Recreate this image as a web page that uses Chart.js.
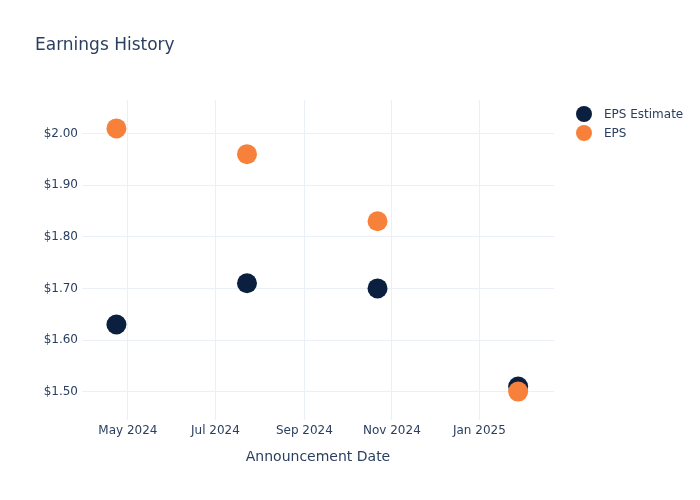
<!DOCTYPE html>
<html>
<head>
<meta charset="utf-8">
<script src="https://cdn.jsdelivr.net/npm/chart.js@4"></script>
<style>
  html, body { margin: 0; padding: 0; background: #fff; }
  #wrap { width: 700px; height: 500px; }
</style>
</head>
<body>
<div id="wrap"><canvas id="epsChart" width="700" height="500"></canvas></div>
<script>
const dates = ["2024-04-23", "2024-07-23", "2024-10-22", "2025-01-28"];
const epsEstimate = [1.63, 1.71, 1.70, 1.51];
const epsActual = [2.01, 1.96, 1.83, 1.50];
const xTickDates = ["2024-05-01", "2024-07-01", "2024-09-01", "2024-11-01", "2025-01-01"];
const xTickLabels = ["May 2024", "Jul 2024", "Sep 2024", "Nov 2024", "Jan 2025"];
const yTicks = [1.5, 1.6, 1.7, 1.8, 1.9, 2.0];

const textColor = '#2a3f5f';
const gridColor = '#ebf0f8';
const navy = '#0b1f3f';
const orange = '#f7813a';

const toPoints = (vals) => dates.map((d, i) => ({ x: Date.parse(d), y: vals[i] }));
const xTickValues = xTickDates.map(d => Date.parse(d));

// title + legend drawn by hand so the plot area lines up with the reference
const decorations = {
    id: 'decorations',
    afterDraw(chart) {
        const c = chart.ctx;
        c.save();
        c.fillStyle = textColor;
        c.font = '17px "DejaVu Sans"';
        c.textBaseline = 'alphabetic';
        c.textAlign = 'left';
        c.fillText('Earnings History', 35, 50);

        const items = [
            { label: 'EPS Estimate', color: navy },
            { label: 'EPS', color: orange }
        ];
        c.font = '12px "DejaVu Sans"';
        c.textBaseline = 'middle';
        items.forEach((it, i) => {
            const y = 114 + i * 19;
            c.beginPath();
            c.arc(584, y, 8, 0, Math.PI * 2);
            c.fillStyle = it.color;
            c.fill();
            c.fillStyle = textColor;
            c.fillText(it.label, 604, y + 1);
        });
        c.restore();
    }
};

new Chart(document.getElementById('epsChart'), {
    type: 'scatter',
    data: {
        datasets: [
            {
                label: 'EPS Estimate',
                data: toPoints(epsEstimate),
                backgroundColor: navy,
                borderWidth: 0,
                pointRadius: 10,
                pointHoverRadius: 10,
                order: 1
            },
            {
                label: 'EPS',
                data: toPoints(epsActual),
                backgroundColor: orange,
                borderWidth: 0,
                pointRadius: 10,
                pointHoverRadius: 10,
                order: 0
            }
        ]
    },
    options: {
        responsive: false,
        animation: false,
        events: [],
        layout: { padding: { left: 0, right: 146, top: 100, bottom: 0 } },
        plugins: {
            legend: { display: false },
            title: { display: false },
            tooltip: { enabled: false }
        },
        scales: {
            x: {
                type: 'linear',
                min: Date.parse('2024-03-30'),
                max: Date.parse('2025-02-22'),
                afterBuildTicks: (scale) => { scale.ticks = xTickValues.map(v => ({ value: v })); },
                afterFit: (scale) => { scale.height = 80; },
                grid: { color: gridColor, drawTicks: false },
                border: { display: false },
                ticks: {
                    color: textColor,
                    font: { family: 'DejaVu Sans', size: 12 },
                    padding: 4,
                    maxRotation: 0,
                    callback: (v) => {
                        const i = xTickValues.indexOf(v);
                        return i >= 0 ? xTickLabels[i] : '';
                    }
                },
                title: {
                    display: true,
                    text: 'Announcement Date',
                    color: textColor,
                    font: { family: 'DejaVu Sans', size: 14 },
                    padding: { top: 0, bottom: 34 }
                }
            },
            y: {
                min: 1.445,
                max: 2.065,
                afterBuildTicks: (scale) => { scale.ticks = yTicks.map(v => ({ value: v })); },
                afterFit: (scale) => { scale.width = 82; },
                grid: { color: gridColor, drawTicks: false },
                border: { display: false },
                ticks: {
                    color: textColor,
                    font: { family: 'DejaVu Sans', size: 12 },
                    padding: 4,
                    callback: (v) => '$' + Number(v).toFixed(2)
                }
            }
        }
    },
    plugins: [decorations]
});
</script>
</body>
</html>
